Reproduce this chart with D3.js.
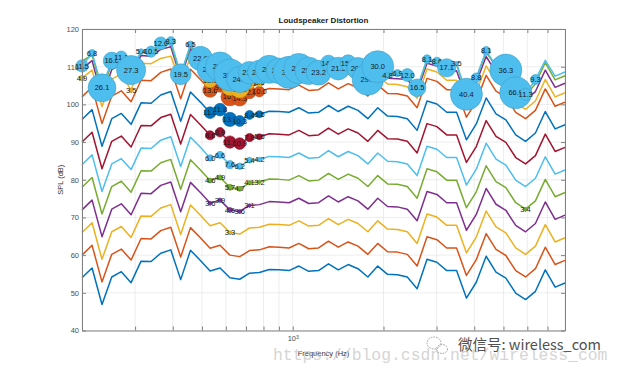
<!DOCTYPE html>
<html>
<head>
<meta charset="utf-8">
<script src="https://d3js.org/d3.v7.min.js"></script>
<style>
    body { margin: 0; background-color: #fff; font-family: 'Liberation Sans', Arial, sans-serif; }
</style>
</head>
<body>
<svg width="624" height="372"></svg>
<script>
// frequency points (Hz), 50 log spaced points 200 Hz .. 8 kHz
var freqs = [200, 216, 233, 251, 270, 291, 314, 339, 365, 394, 425, 458, 494, 532, 574, 619, 667, 719, 775, 836,
             901, 972, 1048, 1130, 1218, 1314, 1416, 1527, 1646, 1775, 1914, 2063, 2225, 2399, 2586, 2789, 3007, 3242, 3495, 3768,
             4063, 4381, 4723, 5093, 5491, 5920, 6383, 6882, 7420, 8000];

// SPL (dB) per drive level, lowest first
var level1 = [54.0,56.6,46.9,54.2,55.6,52.7,58.4,58.3,60.5,61.4,53.5,61.3,58.6,55.8,56.6,54.0,53.6,55.2,55.4,56.2,
              56.1,55.9,57.1,55.7,55.9,57.7,56.1,57.5,56.4,54.2,57.1,54.9,54.8,54.2,51.1,58.9,58.1,55.9,55.9,48.6,
              52.8,59.7,55.5,53.9,49.9,48.2,50.4,56.1,51.5,52.6];
var level2 = [60.0,62.6,52.9,60.2,61.6,58.7,64.4,64.3,66.5,67.4,59.5,67.3,64.6,61.8,62.6,60.0,59.6,61.2,61.4,62.2,
              62.1,61.9,63.1,61.7,61.9,63.7,62.1,63.5,62.4,60.2,63.1,60.9,60.8,60.2,57.1,64.9,64.1,61.9,61.9,54.6,
              58.8,65.7,61.5,59.9,55.9,54.2,56.4,62.1,57.5,58.6];
var level3 = [66.0,68.6,58.9,66.2,67.6,64.7,70.4,70.3,72.5,73.4,65.5,73.3,70.6,67.8,68.6,66.0,65.6,67.2,67.4,68.2,
              68.1,67.9,69.1,67.7,67.9,69.7,68.1,69.5,68.4,66.2,69.1,66.9,66.8,66.2,63.1,70.9,70.1,67.9,67.9,60.6,
              64.8,71.7,67.5,65.9,61.9,60.2,62.4,68.1,63.5,64.6];
var level4 = [72.0,74.6,64.9,72.2,73.6,70.7,76.4,76.3,78.5,79.4,71.5,79.3,76.6,73.8,74.6,72.0,71.6,73.2,73.4,74.2,
              74.1,73.9,75.1,73.7,73.9,75.7,74.1,75.5,74.4,72.2,75.1,72.9,72.8,72.2,69.1,76.9,76.1,73.9,73.9,66.6,
              70.8,77.7,73.5,71.9,67.9,66.2,68.4,74.1,69.5,70.6];
var level5 = [78.0,80.6,70.9,78.2,79.6,76.7,82.4,82.3,84.5,85.4,77.5,85.3,82.6,79.8,80.6,78.0,77.6,79.2,79.4,80.2,
              80.1,79.9,81.1,79.7,79.9,81.7,80.1,81.5,80.4,78.2,81.1,78.9,78.8,78.2,75.1,82.9,82.1,79.9,79.9,72.6,
              76.8,83.7,79.5,77.9,73.9,72.2,74.4,80.1,75.5,76.6];
var level6 = [84.0,86.6,76.9,84.2,85.6,82.7,88.4,88.3,90.5,91.4,83.5,91.3,88.6,85.8,86.6,84.0,83.6,85.2,85.4,86.2,
              86.1,85.9,87.1,85.7,85.9,87.7,86.1,87.5,86.4,84.2,87.1,84.9,84.8,84.2,81.1,88.9,88.1,85.9,85.9,78.6,
              82.8,89.7,85.5,83.9,79.9,78.2,80.4,86.1,81.5,82.6];
var level7 = [90.0,92.6,82.9,90.2,91.6,88.7,94.4,94.3,96.5,97.4,89.5,97.3,94.6,91.8,92.6,90.0,89.6,91.2,91.4,92.2,
              92.1,91.9,93.1,91.7,91.9,93.7,92.1,93.5,92.4,90.2,93.1,90.9,90.8,90.2,87.1,94.9,94.1,91.9,91.9,84.6,
              88.8,95.7,91.5,89.9,85.9,84.2,86.4,92.1,87.5,88.6];
var level8 = [96.0,98.6,88.9,96.2,97.6,94.7,100.4,100.3,102.5,103.4,95.5,103.3,100.6,97.8,98.6,96.0,95.6,97.2,97.4,98.2,
              98.1,97.9,99.1,97.7,97.9,99.7,98.1,99.5,98.4,96.2,99.1,96.9,96.8,96.2,93.1,100.9,100.1,97.9,97.9,90.6,
              94.8,101.7,97.5,95.9,91.9,90.2,92.4,98.1,93.5,94.6];
var level9 = [102.0,104.6,94.9,102.2,103.6,100.7,106.4,106.3,108.5,109.4,101.5,109.3,106.6,103.8,104.6,102.0,101.6,103.2,103.4,104.2,
              104.1,103.9,105.1,103.7,103.9,105.7,104.1,105.5,104.4,102.2,105.1,102.9,102.8,102.2,99.1,106.9,106.1,103.9,103.9,96.6,
              100.8,107.7,103.5,101.9,97.9,96.2,98.4,104.1,99.5,100.6];
var level10 = [107.0,109.1,99.4,106.7,108.1,103.8,110.9,110.8,112.2,112.8,106.0,112.5,109.1,106.3,107.1,104.5,104.1,105.7,105.9,106.7,
               106.6,106.4,107.6,106.2,106.4,108.2,106.6,108.0,106.9,104.7,107.6,105.4,105.3,104.7,101.6,109.4,108.6,106.4,106.4,99.1,
               103.3,110.2,106.0,104.4,100.4,98.7,100.9,106.6,102.0,103.1];
var level11 = [109.5,111.6,101.9,109.2,110.6,107.7,113.0,112.8,114.6,115.3,107.0,114.8,111.2,108.3,109.0,106.8,105.6,107.4,107.6,108.3,
               107.9,107.5,108.5,107.9,107.4,110.0,108.5,110.0,108.5,105.6,109.0,106.9,106.8,106.6,103.5,110.9,110.2,108.4,108.9,101.6,
               105.8,112.7,108.5,106.9,102.3,101.2,103.4,109.1,104.5,105.6];
var level12 = [111.5,113.1,103.6,110.7,112.1,108.8,113.8,113.8,115.8,116.3,107.5,115.5,111.9,109.0,109.7,107.5,106.3,108.1,108.3,109.0,
               108.6,108.2,109.2,108.6,108.1,110.7,109.2,110.7,109.2,106.3,109.7,107.5,108.0,107.5,104.2,111.7,111.0,109.4,110.6,102.5,
               106.9,113.9,110.0,108.9,102.9,102.5,105.4,111.1,106.5,107.6];
var level13 = [110.2,113.6,104.4,111.6,112.6,109.1,114.0,114.0,116.2,116.8,108.0,115.9,112.2,109.3,110.0,107.8,106.6,108.4,108.6,109.3,
               108.9,108.5,109.5,108.9,108.4,111.0,109.5,111.0,109.5,106.6,110.0,107.8,108.3,107.8,104.4,112.0,111.3,109.7,110.9,102.7,
               107.1,114.2,110.3,109.1,103.1,102.7,106.6,111.7,107.5,108.6];

// distortion (%) at the top level, null = below threshold
var thd13 = [11.5,6.8,26.1,16.0,11.1,27.3,5.4,10.5,12.0,8.3,19.5,6.5,22.6,24.2,27.5,31.0,24.4,21.1,22.0,26.3,
             24.0,33.5,28.4,25.7,23.2,14.6,21.3,15.2,20.8,29.4,30.0,4.8,6.9,12.0,16.5,8.1,8.6,17.1,3.5,40.4,
             8.8,8.1,null,36.3,66.9,11.3,9.3,null,null,null];
// distortion around the 530-780 Hz dip, per level
var midIdx = [13, 14, 15, 16, 17, 18];
var thd3 = [null, null, 3.3, null, null, null];
var thd4 = [3.6, 3.9, 4.6, 3.6, 3.1, null];
var thd5 = [4.6, 4.9, 5.7, 4.7, 4.1, 3.2];
var thd6 = [6.0, 6.6, 7.6, 6.2, 5.4, 4.2];
var thd7 = [8.6, 8.9, 11.6, 10.9, 7.8, 5.6];
var thd8 = [11.0, 11.8, 13.3, 10.3, 8.4, 6.6];
var thd9 = [13.6, 9.6, 16.8, 14.3, 12.0, 10.0];
var thd10 = [13.1, 9.0, 15.3, 17.0, 11.1, 8.6];
// a few single points elsewhere
var extraLevel = [10, 10, 11, 5];
var extraIdx = [0, 5, 0, 45];
var extraThd = [4.9, 3.5, 3.0, 3.4];

var xTicks = [200, 300, 400, 500, 600, 700, 800, 900, 1000, 2000, 3000, 4000, 5000, 6000, 7000, 8000];
var yTicks = [40, 50, 60, 70, 80, 90, 100, 110, 120];

var colors = ["#0072BD", "#D95319", "#EDB120", "#7E2F8E", "#77AC30", "#4DBEEE", "#A2142F"];
var levels = [level1, level2, level3, level4, level5, level6, level7, level8, level9, level10, level11, level12, level13];

var svg = d3.select("svg"),
    plotLeft = 82, plotRight = 565, plotTop = 29, plotBottom = 330.5;

var x = d3.scaleLog().domain([200, 8000]).range([plotLeft, plotRight]);
var y = d3.scaleLinear().domain([40, 120]).range([plotBottom, plotTop]);
var r = d3.scaleLinear().domain([0, 30]).range([0, 16]).clamp(true);

// grid
svg.append("g").selectAll("line").data(xTicks).join("line")
    .attr("x1", function(d) { return x(d); }).attr("x2", function(d) { return x(d); })
    .attr("y1", plotTop).attr("y2", plotBottom)
    .attr("stroke", "#e8e8e8").attr("stroke-width", 0.8);
svg.append("g").selectAll("line").data(yTicks).join("line")
    .attr("x1", plotLeft).attr("x2", plotRight)
    .attr("y1", function(d) { return y(d); }).attr("y2", function(d) { return y(d); })
    .attr("stroke", "#e8e8e8").attr("stroke-width", 0.8);

// lines
var line = d3.line()
    .x(function(d, i) { return x(freqs[i]); })
    .y(function(d) { return y(d); });

svg.append("g").selectAll("path").data(levels).join("path")
    .attr("fill", "none")
    .attr("stroke", function(d, i) { return colors[i % 7]; })
    .attr("stroke-width", 1.5)
    .attr("stroke-linejoin", "round")
    .attr("d", line);

// bubbles: one list per level, drawn in level order
var bubbles = [];
var midThd = {3: thd3, 4: thd4, 5: thd5, 6: thd6, 7: thd7, 8: thd8, 9: thd9, 10: thd10};
for (var lv = 3; lv <= 13; lv++) {
    var pts = [];
    if (midThd[lv]) {
        midThd[lv].forEach(function(v, j) { if (v != null) pts.push({i: midIdx[j], v: v}); });
    }
    extraLevel.forEach(function(el, j) { if (el === lv) pts.push({i: extraIdx[j], v: extraThd[j]}); });
    if (lv === 13) {
        thd13.forEach(function(v, i) { if (v != null) pts.push({i: i, v: v}); });
    }
    pts.sort(function(a, b) { return a.i - b.i; });
    pts.forEach(function(p) { bubbles.push({lv: lv, i: p.i, v: p.v}); });
}

var fmt = d3.format(".1f");
var bg = svg.append("g").selectAll("g").data(bubbles).join("g")
    .attr("transform", function(d) { return "translate(" + x(freqs[d.i]) + "," + y(levels[d.lv - 1][d.i]) + ")"; });
bg.append("circle")
    .attr("r", function(d) { return r(d.v); })
    .attr("fill", function(d) { return colors[(d.lv - 1) % 7]; })
    .attr("stroke", function(d) { return d3.color(colors[(d.lv - 1) % 7]).darker(0.5); })
    .attr("stroke-width", 0.6);
bg.append("text")
    .attr("text-anchor", "middle")
    .attr("dy", "0.35em")
    .style("font", "7.5px 'Liberation Sans', Arial, sans-serif")
    .attr("fill", "#1a1a1a")
    .text(function(d) { return fmt(d.v); });

// axes (box with inward ticks)
function styleAxis(g) {
    g.selectAll("path, line").attr("stroke", "#808080");
    g.selectAll("text").attr("fill", "#4d4d4d").style("font", "7.5px 'Liberation Sans', Arial, sans-serif");
}
svg.append("g").attr("transform", "translate(0," + plotBottom + ")")
    .call(d3.axisBottom(x).tickValues(xTicks).tickSize(-4).tickSizeOuter(0).tickPadding(5)
        .tickFormat(function(d) { return d === 1000 ? "10" : ""; }))
    .call(styleAxis)
    .selectAll(".tick text").filter(function(d) { return d === 1000; })
    .append("tspan").attr("dy", "-0.45em").style("font-size", "5px").text("3");
svg.append("g").attr("transform", "translate(0," + plotTop + ")")
    .call(d3.axisTop(x).tickValues(xTicks).tickSize(-4).tickSizeOuter(0).tickFormat(""))
    .call(styleAxis);
svg.append("g").attr("transform", "translate(" + plotLeft + ",0)")
    .call(d3.axisLeft(y).tickValues(yTicks).tickSize(-4).tickSizeOuter(0).tickPadding(3))
    .call(styleAxis);
svg.append("g").attr("transform", "translate(" + plotRight + ",0)")
    .call(d3.axisRight(y).tickValues(yTicks).tickSize(-4).tickSizeOuter(0).tickFormat(""))
    .call(styleAxis);

// titles
svg.append("text")
    .attr("x", (plotLeft + plotRight) / 2).attr("y", 23)
    .attr("text-anchor", "middle")
    .style("font", "bold 8px 'Liberation Sans', Arial, sans-serif")
    .attr("fill", "#1a1a1a")
    .text("Loudspeaker Distortion");
svg.append("text")
    .attr("x", (plotLeft + plotRight) / 2).attr("y", 356)
    .attr("text-anchor", "middle")
    .style("font", "7.5px 'Liberation Sans', Arial, sans-serif")
    .attr("fill", "#333")
    .text("Frequency (Hz)");
svg.append("text")
    .attr("transform", "translate(63," + ((plotTop + plotBottom) / 2) + ") rotate(-90)")
    .attr("text-anchor", "middle")
    .style("font", "7.5px 'Liberation Sans', Arial, sans-serif")
    .attr("fill", "#333")
    .text("SPL (dB)");

// watermarks
svg.append("text")
    .attr("x", 273).attr("y", 360)
    .style("font", "16.4px 'Liberation Mono', monospace")
    .attr("fill", "#c4c4c4").attr("opacity", 0.7)
    .text("https://blog.csdn.net/wireless_com");
var logo = svg.append("g").attr("fill", "none").attr("stroke", "#9a9a9a")
    .attr("stroke-width", 1).attr("stroke-dasharray", "1.5,1.2");
logo.append("ellipse").attr("cx", 434).attr("cy", 343).attr("rx", 7).attr("ry", 6);
logo.append("ellipse").attr("cx", 442).attr("cy", 349).attr("rx", 5.5).attr("ry", 4.5);
svg.append("text")
    .attr("x", 458).attr("y", 350)
    .style("font", "14.5px 'Noto Sans CJK SC', 'Noto Sans', sans-serif")
    .attr("fill", "#505050")
    .text("微信号: wireless_com");
</script>
</body>
</html>
